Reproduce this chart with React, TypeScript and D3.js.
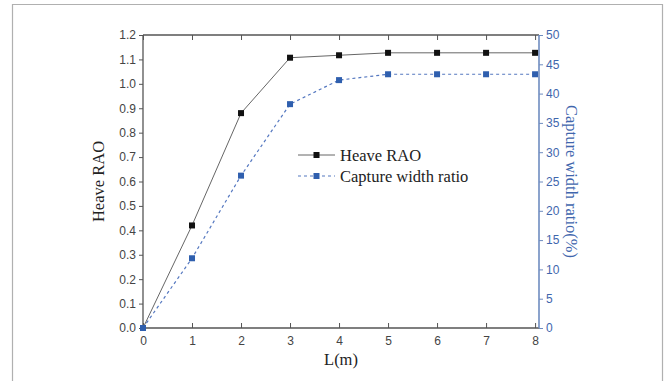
import * as React from 'react';
import * as d3 from 'd3';

const lengths = [0, 1, 2, 3, 4, 5, 6, 7, 8];
const heaveRAO = [0, 0.42, 0.88, 1.107, 1.117, 1.127, 1.127, 1.127, 1.127];
const captureRatio = [0, 11.9, 26.0, 38.2, 42.3, 43.3, 43.3, 43.3, 43.3];
const leftTicks = [0, 0.1, 0.2, 0.3, 0.4, 0.5, 0.6, 0.7, 0.8, 0.9, 1.0, 1.1, 1.2];
const rightTicks = [0, 5, 10, 15, 20, 25, 30, 35, 40, 45, 50];

const App = () => {
  const ref = React.useRef<SVGSVGElement>(null);

  React.useEffect(() => {
    const svg = d3.select(ref.current);
    svg.selectAll('*').remove();

    const left = 143, right = 539, top = 35, bottom = 328;
    const blue = '#3f66ad';
    const grey = '#555';

    // outer frame
    svg.append('path')
      .attr('d', 'M12.5,381 V4.5 H662.5 V381')
      .attr('fill', 'none').attr('stroke', '#b0b0b0').attr('stroke-width', 1.2);

    const x = d3.scaleLinear().domain([0, 8.08]).range([left, right]);
    const y = d3.scaleLinear().domain([0, 1.2]).range([bottom, top]);
    const y2 = d3.scaleLinear().domain([0, 50]).range([bottom, top]);

    const tickFont = (g: any, color: string) => {
      g.selectAll('text').attr('font-family', 'Arial, Liberation Sans, sans-serif')
        .attr('font-size', 12).attr('fill', color);
      g.select('.domain').remove();
    };

    // bottom axis, ticks inward
    const gb = svg.append('g').attr('transform', `translate(0,${bottom})`)
      .call(d3.axisBottom(x).tickValues(lengths).tickSizeInner(-5).tickSizeOuter(0).tickPadding(8).tickFormat(d3.format('d')));
    tickFont(gb, '#444');
    gb.selectAll('line').attr('stroke', grey);

    // top axis, ticks inward, no labels
    const gt = svg.append('g').attr('transform', `translate(0,${top})`)
      .call(d3.axisTop(x).tickValues(lengths).tickSizeInner(-5).tickSizeOuter(0).tickFormat(() => ''));
    gt.select('.domain').remove();
    gt.selectAll('line').attr('stroke', grey);

    // left axis
    const gl = svg.append('g').attr('transform', `translate(${left},0)`)
      .call(d3.axisLeft(y).tickValues(leftTicks).tickSize(4).tickPadding(3).tickFormat(d3.format('.1f')));
    tickFont(gl, '#444');
    gl.selectAll('line').attr('stroke', grey);

    // right axis
    const gr = svg.append('g').attr('transform', `translate(${right},0)`)
      .call(d3.axisRight(y2).tickValues(rightTicks).tickSize(4).tickPadding(3));
    tickFont(gr, blue);
    gr.selectAll('line').attr('stroke', '#6f8cc0');

    // axis lines
    svg.append('line').attr('x1', left).attr('x2', right).attr('y1', top).attr('y2', top)
      .attr('stroke', grey).attr('stroke-width', 1.3);
    svg.append('line').attr('x1', left).attr('x2', right).attr('y1', bottom).attr('y2', bottom)
      .attr('stroke', grey).attr('stroke-width', 1.3);
    svg.append('line').attr('x1', left).attr('x2', left).attr('y1', top).attr('y2', bottom)
      .attr('stroke', grey).attr('stroke-width', 1.3);
    svg.append('line').attr('x1', right).attr('x2', right).attr('y1', top).attr('y2', bottom)
      .attr('stroke', '#6f8cc0').attr('stroke-width', 1.6);

    // series
    const heaveLine = d3.line<number>().x((_, i) => x(lengths[i])).y(d => y(d));
    const capLine = d3.line<number>().x((_, i) => x(lengths[i])).y(d => y2(d));

    svg.append('path').attr('d', heaveLine(heaveRAO))
      .attr('fill', 'none').attr('stroke', '#666').attr('stroke-width', 1);
    svg.append('path').attr('d', capLine(captureRatio))
      .attr('fill', 'none').attr('stroke', '#5578c0').attr('stroke-width', 1.2)
      .attr('stroke-dasharray', '3,3');

    svg.append('g').selectAll('rect').data(heaveRAO).enter().append('rect')
      .attr('x', (_, i) => x(lengths[i]) - 3).attr('y', d => y(d) - 3)
      .attr('width', 6).attr('height', 6).attr('fill', '#111');
    svg.append('g').selectAll('rect').data(captureRatio).enter().append('rect')
      .attr('x', (_, i) => x(lengths[i]) - 3).attr('y', d => y2(d) - 3)
      .attr('width', 6).attr('height', 6).attr('fill', '#2f5fae');

    // axis titles
    const serif = 'Times New Roman, Liberation Serif, serif';
    svg.append('text').attr('transform', `translate(104,${(top + bottom) / 2}) rotate(-90)`)
      .attr('text-anchor', 'middle').attr('font-family', serif).attr('font-size', 16.5)
      .attr('fill', '#222').text('Heave RAO');
    svg.append('text').attr('transform', `translate(566,${(top + bottom) / 2}) rotate(90)`)
      .attr('text-anchor', 'middle').attr('font-family', serif).attr('font-size', 16.5)
      .attr('fill', blue).text('Capture width ratio(%)');
    svg.append('text').attr('x', (left + right) / 2).attr('y', 365)
      .attr('text-anchor', 'middle').attr('font-family', serif).attr('font-size', 16.5)
      .attr('fill', '#222').text('L(m)');

    // legend
    const legend = svg.append('g').attr('transform', 'translate(298,155)');
    legend.append('line').attr('x1', 0).attr('x2', 37).attr('y1', 0).attr('y2', 0)
      .attr('stroke', '#666').attr('stroke-width', 1);
    legend.append('rect').attr('x', 15.5).attr('y', -3).attr('width', 6).attr('height', 6).attr('fill', '#111');
    legend.append('text').attr('x', 42).attr('y', 5.5).attr('font-family', serif)
      .attr('font-size', 16.5).attr('fill', '#222').text('Heave RAO');
    legend.append('line').attr('x1', 0).attr('x2', 37).attr('y1', 21).attr('y2', 21)
      .attr('stroke', '#5578c0').attr('stroke-width', 1.2).attr('stroke-dasharray', '3,3');
    legend.append('rect').attr('x', 15.5).attr('y', 18).attr('width', 6).attr('height', 6).attr('fill', '#2f5fae');
    legend.append('text').attr('x', 42).attr('y', 26.5).attr('font-family', serif)
      .attr('font-size', 16.5).attr('fill', '#222').text('Capture width ratio');
  }, []);

  return (
    <svg ref={ref} width={667} height={381}
      style={{ position: 'absolute', left: 0, top: 0, background: '#fff' }}></svg>
  );
};

export default App;
